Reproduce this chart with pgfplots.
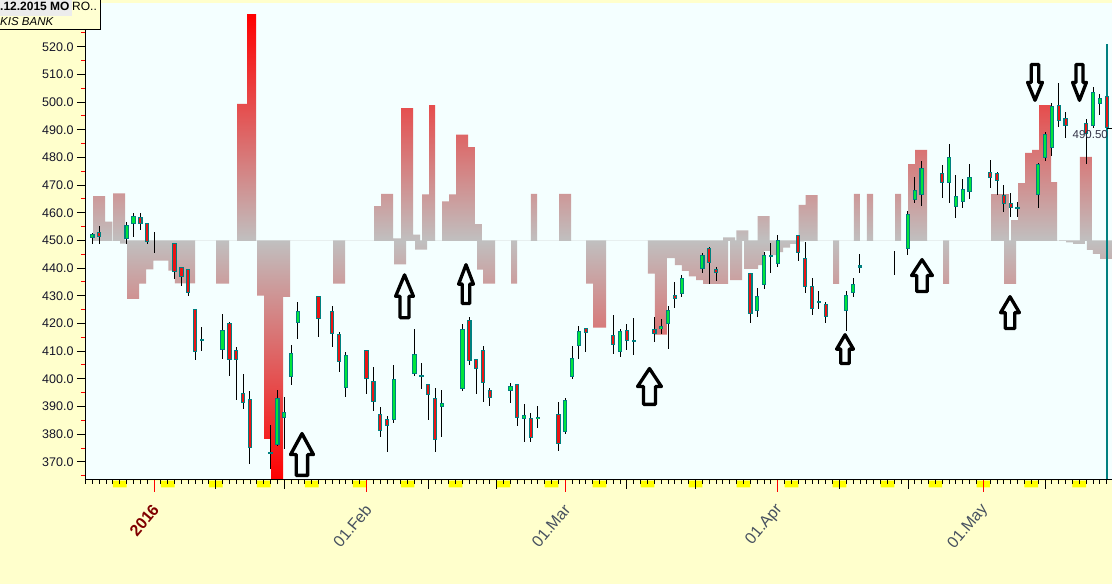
\documentclass[border=0pt]{standalone}
\usepackage{pgfplots}
\usepackage{pgfplotstable}
\pgfplotsset{compat=1.18}
\usepackage{fontspec}
\setmainfont{Liberation Sans}
\definecolor{bgyellow}{RGB}{255,255,204}
\definecolor{boxyellow}{RGB}{255,255,210}
\definecolor{boxgray}{RGB}{236,236,236}
\definecolor{plotbg}{RGB}{244,255,255}
\definecolor{cgreen}{RGB}{0,230,60}
\definecolor{cred}{RGB}{235,20,20}
\definecolor{cteal}{RGB}{0,128,128}
\definecolor{bargray}{RGB}{192,192,192}
\definecolor{darkred}{RGB}{128,0,0}
\definecolor{lblgray}{RGB}{70,80,95}
\definecolor{ylbl}{RGB}{20,20,40}
\definecolor{pricelbl}{RGB}{50,50,70}
\definecolor{wkyellow}{RGB}{255,255,0}

\pgfdeclareplotmark{blockarrow}{%
  \pgfpathmoveto{\pgfpoint{0pt}{1pt}}%
  \pgfpathlineto{\pgfpoint{1pt}{0pt}}%
  \pgfpathlineto{\pgfpoint{0.5pt}{0pt}}%
  \pgfpathlineto{\pgfpoint{0.5pt}{-1pt}}%
  \pgfpathlineto{\pgfpoint{-0.5pt}{-1pt}}%
  \pgfpathlineto{\pgfpoint{-0.5pt}{0pt}}%
  \pgfpathlineto{\pgfpoint{-1pt}{0pt}}%
  \pgfpathclose
  \pgfusepathqstroke
}

\pgfplotstableread{
d o h l c
-9 450.8 452.6 448.6 452.3
-4 450.6 456.5 448.6 455.5
-3 455.8 459.8 451.3 458.7
7 413.9 418.7 410.0 413.9
10 410.5 423.4 407.1 417.5
17 373.0 383.3 367.2 373.6
18 376.0 395.9 375.8 392.9
19 385.9 393.4 374.6 387.9
20 400.5 412.2 397.7 409.2
21 420.0 427.6 414.5 424.4
28 396.6 409.7 393.3 408.5
35 385.1 404.9 384.1 399.8
38 401.6 417.9 401.1 408.9
42 389.9 395.9 379.0 391.1
45 396.2 419.8 395.7 417.9
52 395.7 398.6 391.1 397.5
54 385.3 390.8 377.3 386.8
56 385.3 390.2 382.1 386.3
60 380.7 393.1 380.2 392.3
61 400.5 411.7 400.0 407.4
62 411.7 418.9 407.2 417.2
68 409.6 417.9 407.7 417.2
70 413.3 421.8 408.5 413.9
74 417.9 421.5 416.1 419.0
75 419.7 426.2 410.9 424.7
77 430.5 437.4 429.4 436.3
80 439.6 445.3 438.1 444.6
88 424.4 432.7 422.4 429.8
89 433.8 445.7 432.3 444.6
90 444.3 448.9 438.3 444.3
91 441.4 451.8 440.3 450.0
101 424.4 431.6 417.4 430.2
102 430.9 436.3 429.4 434.1
103 440.6 445.0 438.3 440.6
110 446.8 460.5 444.6 459.4
111 464.5 472.8 463.4 468.1
112 466.3 478.6 462.3 476.1
116 470.6 484.7 463.6 480.2
117 462.1 473.5 458.2 465.9
118 463.8 472.1 461.8 468.5
119 467.4 477.5 464.9 472.8
126 461.6 463.8 458.6 461.6
129 466.3 477.9 461.8 477.5
130 479.7 489.1 478.6 488.3
131 483.3 499.5 480.4 498.5
137 491.2 505.3 490.5 503.5
138 499.2 502.8 495.2 501.3
}\greenc

\pgfplotstableread{
d o h l c
-8 452.9 455.2 448.6 451.3
-2 458.3 459.8 453.8 455.8
-1 456.2 456.2 448.6 449.6
3 448.9 448.9 436.0 438.7
4 440.3 440.3 433.5 436.9
5 439.6 439.6 429.9 431.1
6 425.1 425.1 406.8 409.8
11 420.0 420.4 401.1 406.7
12 410.3 411.4 392.4 406.9
13 394.7 401.7 389.0 391.1
14 392.6 395.6 369.1 374.9
24 429.8 429.8 415.2 421.5
26 424.4 426.3 411.6 416.0
27 416.0 416.8 402.5 406.2
31 410.3 410.3 394.6 399.8
32 399.1 404.2 388.5 391.5
33 387.2 389.8 379.0 381.0
34 385.6 386.5 373.4 383.0
39 401.2 405.6 396.2 400.5
40 398.0 398.0 385.1 394.0
41 392.9 396.5 373.4 377.7
46 421.2 422.2 405.1 406.3
47 407.0 407.0 394.6 403.4
48 410.3 411.7 391.7 398.4
49 396.1 396.8 390.1 393.2
53 398.0 398.0 383.0 385.7
55 385.9 387.5 377.3 378.5
59 387.2 391.5 374.0 376.3
63 418.2 418.2 409.6 416.4
67 415.7 422.9 408.8 412.1
69 417.5 419.7 410.5 413.6
73 417.9 422.2 413.2 416.1
76 430.2 434.9 425.7 428.7
81 447.1 447.5 434.3 441.7
82 439.6 440.3 435.2 438.1
87 438.1 438.1 420.0 423.3
94 451.8 451.8 442.4 445.3
95 443.5 449.3 430.9 433.0
96 433.4 436.3 423.1 425.1
97 428.0 431.6 425.1 427.3
98 426.9 427.6 420.0 422.2
115 474.2 477.1 465.2 470.6
122 474.6 478.9 468.8 472.4
123 474.2 474.6 466.3 471.4
124 466.3 469.9 460.4 463.0
125 463.4 467.0 458.6 461.6
132 498.8 506.8 490.9 493.0
133 494.1 496.3 486.9 491.2
136 492.3 493.8 477.5 488.3
139 502.1 502.1 490.5 490.5
}\redc

\pgfplotstableread{
d o h l c
0 450.0 452.9 445.5 450.0
108 441.0 446.0 437.6 441.0
}\wickc

\begin{document}
\begin{tikzpicture}
\useasboundingbox (0,0) rectangle (1112pt,584pt);
\fill[bgyellow] (0,0) rectangle (1112pt,584pt);
\begin{axis}[
  at={(85pt,104pt)}, anchor=south west,
  scale only axis, width=1027pt, height=477pt,
  xmin=-10.07, xmax=139.77, ymin=363.4, ymax=535.8,
  clip=false, axis on top=true,
  axis x line*=bottom, axis y line*=left,
  axis line style={-, black, line width=1pt},
  axis background/.style={fill=plotbg},
  tick align=outside,
  major tick length=8pt, minor tick length=4pt,
  ytick={370,380,...,520},
  minor ytick={365,375,...,525},
  every major tick/.append style={black, line width=0.8pt},
  every minor tick/.append style={red, line width=0.8pt},
  xtick={0,31,60,91,121},
  xticklabels={\textbf{\textcolor{darkred}{2016}},01.Feb,01.Mar,01.Apr,01.May},
  xtick style={draw=none},
  xticklabel style={xshift=4pt, yshift=-16pt, rotate=50, anchor=east, font=\fontsize{16}{16}\selectfont, text=lblgray},
  yticklabel style={font=\fontsize{12.5}{14}\selectfont, text=ylbl, /pgf/number format/fixed, /pgf/number format/fixed zerofill, /pgf/number format/precision=1},
  /pgf/number format/assume math mode=true,
  candle/.style={draw=none, mark=none, forget plot, error bars/.cd, y dir=both, y explicit, error mark=none},
]
% gradient bars above 450
\addplot[draw=none, bottom color=bargray, top color=red, forget plot] coordinates {
(-8.90,449.8)(-8.90,466.0)(-7.15,466.0)(-7.15,456.8)(-6.08,456.8)(-6.08,449.8)
(-5.98,449.8)(-5.98,467.0)(-4.23,467.0)(-4.23,449.8)
(12.11,449.8)(12.11,499.3)(13.57,499.3)(13.57,531.8)(14.88,531.8)(14.88,449.8)
(32.10,449.8)(32.10,462.4)(33.12,462.4)(33.12,466.8)(34.87,466.8)(34.87,450.7)(36.04,450.7)(36.04,497.8)(37.79,497.8)(37.79,452.1)(38.81,452.1)(38.81,449.8)
(39.10,449.8)(39.10,466.6)(40.12,466.6)(40.12,498.9)(41.00,498.9)(41.00,449.8)
(42.02,449.8)(42.02,464.1)(43.04,464.1)(43.04,466.6)(44.06,466.6)(44.06,488.2)(45.81,488.2)(45.81,483.7)(46.83,483.7)(46.83,455.9)(47.85,455.9)(47.85,449.8)
(55.00,449.8)(55.00,466.8)(55.88,466.8)(55.88,449.8)
(59.09,449.8)(59.09,466.8)(60.84,466.8)(60.84,449.8)
(83.02,449.8)(83.02,451.1)(84.77,451.1)(84.77,449.8)
(84.97,449.8)(84.97,453.6)(86.72,453.6)(86.72,449.8)
(88.06,449.8)(88.06,458.8)(89.82,458.8)(89.82,449.8)
(94.05,449.8)(94.05,462.8)(95.07,462.8)(95.07,466.4)(96.83,466.4)(96.83,449.8)
(102.12,449.8)(102.12,466.8)(103.00,466.8)(103.00,449.8)
(104.02,449.8)(104.02,466.8)(104.90,466.8)(104.90,449.8)
(108.11,449.8)(108.11,466.8)(108.99,466.8)(108.99,449.8)
(110.02,449.8)(110.02,477.6)(111.05,477.6)(111.05,482.7)(112.80,482.7)(112.80,449.8)
(122.12,449.8)(122.12,466.7)(124.74,466.7)(124.74,449.8)
(125.04,449.8)(125.04,457.3)(126.06,457.3)(126.06,470.7)(127.08,470.7)(127.08,481.6)(128.10,481.6)(128.10,482.7)(129.13,482.7)(129.13,498.9)(130.87,498.9)(130.87,471.1)(131.75,471.1)(131.75,449.8)
(135.10,449.8)(135.10,480.2)(136.85,480.2)(136.85,449.8)
} --cycle;
% gradient bars below 450
\addplot[draw=none, top color=bargray, bottom color=red, forget plot] coordinates {
(-4.96,450)(-4.96,448.8)(-3.94,448.8)(-3.94,428.9)(-2.19,428.9)(-2.19,434.4)(-1.17,434.4)(-1.17,439.5)(-0.10,439.5)(-0.10,442.7)(2.09,442.7)(2.09,439.1)(3.06,439.1)(3.06,434.5)(5.98,434.5)(5.98,450)
(9.05,450)(9.05,434.4)(10.94,434.4)(10.94,450)
(15.03,450)(15.03,430.0)(16.05,430.0)(16.05,378.3)(17.07,378.3)(17.07,363.4)(18.82,363.4)(18.82,429.6)(19.84,429.6)(19.84,450)
(26.12,450)(26.12,434.4)(27.87,434.4)(27.87,450)
(35.02,450)(35.02,441.3)(36.77,441.3)(36.77,450)
(38.08,450)(38.08,446.7)(39.83,446.7)(39.83,450)
(47.13,450)(47.13,439.4)(48.00,439.4)(48.00,434.4)(49.75,434.4)(49.75,450)
(52.09,450)(52.09,434.4)(52.96,434.4)(52.96,450)
(63.03,450)(63.03,434.4)(64.05,434.4)(64.05,418.5)(65.95,418.5)(65.95,450)
(72.07,450)(72.07,438.0)(73.09,438.0)(73.09,415.9)(74.84,415.9)(74.84,443.6)(76.01,443.6)(76.01,441.1)(77.03,441.1)(77.03,439.0)(78.05,439.0)(78.05,437.0)(79.08,437.0)(79.08,435.6)(80.10,435.6)(80.10,434.3)(83.75,434.3)(83.75,450)
(84.05,450)(84.05,435.6)(85.80,435.6)(85.80,450)
(86.09,450)(86.09,439.7)(88.13,439.7)(88.13,441.1)(89.01,441.1)(89.01,446.2)(89.88,446.2)(89.88,444.7)(90.90,444.7)(90.90,445.8)(91.77,445.8)(91.77,447.4)(92.79,447.4)(92.79,448.7)(93.96,448.7)(93.96,449.6)(94.83,449.6)(94.83,450)
(99.07,450)(99.07,434.3)(99.94,434.3)(99.94,450)
(115.12,450)(115.12,434.3)(115.99,434.3)(115.99,450)
(124.02,450)(124.02,434.3)(125.77,434.3)(125.77,450)
(132.04,450)(132.04,449.8)(133.06,449.8)(133.06,449.3)(134.08,449.3)(134.08,448.7)(135.83,448.7)(135.83,450)
(136.12,450)(136.12,446.6)(136.99,446.6)(136.99,445.1)(138.02,445.1)(138.02,443.3)(139.77,443.3)(139.77,450)
} --cycle;
% today line
\addplot[cteal, line width=1.2pt, forget plot] coordinates {(139.05,363.4) (139.05,521)};
% arrows
\addplot[only marks, mark=blockarrow, mark options={xscale=11.4, yscale=20.9, line width=3.4pt, draw=black, line join=round}, forget plot] coordinates {(21.59,372.6)};
\addplot[only marks, mark=blockarrow, mark options={xscale=8.9, yscale=21.4, line width=3.3pt, draw=black, line join=round}, forget plot] coordinates {(36.55,429.8)};
\addplot[only marks, mark=blockarrow, mark options={xscale=7.4, yscale=19.4, line width=3.3pt, draw=black, line join=round}, forget plot] coordinates {(45.52,434.2)};
\addplot[only marks, mark=blockarrow, mark options={xscale=11.9, yscale=17.9, line width=3.3pt, draw=black, line join=round}, forget plot] coordinates {(72.29,397.2)};
\addplot[only marks, mark=blockarrow, mark options={xscale=8.4, yscale=14.4, line width=3.3pt, draw=black, line join=round}, forget plot] coordinates {(100.82,410.7)};
\addplot[only marks, mark=blockarrow, mark options={xscale=10.4, yscale=15.9, line width=3.3pt, draw=black, line join=round}, forget plot] coordinates {(112.05,437.3)};
\addplot[only marks, mark=blockarrow, mark options={xscale=9.4, yscale=15.9, line width=3.3pt, draw=black, line join=round}, forget plot] coordinates {(124.89,423.9)};
\addplot[only marks, mark=blockarrow, mark options={xscale=7.4, yscale=-17.9, line width=3.3pt, draw=black, line join=round}, forget plot] coordinates {(128.54,507.1)};
\addplot[only marks, mark=blockarrow, mark options={xscale=6.9, yscale=-17.9, line width=3.3pt, draw=black, line join=round}, forget plot] coordinates {(135.03,507.1)};
% wicks
\addplot[candle, error bar style={draw=black, line width=1pt}]
  table[x=d, y expr={(\thisrow{h}+\thisrow{l})/2}, y error expr={(\thisrow{h}-\thisrow{l})/2}] {\greenc};
\addplot[candle, error bar style={draw=black, line width=1pt}]
  table[x=d, y expr={(\thisrow{h}+\thisrow{l})/2}, y error expr={(\thisrow{h}-\thisrow{l})/2}] {\redc};
\addplot[candle, error bar style={draw=black, line width=1pt}]
  table[x=d, y expr={(\thisrow{h}+\thisrow{l})/2}, y error expr={(\thisrow{h}-\thisrow{l})/2}] {\wickc};
% bodies
\addplot[candle, error bar style={draw=cteal, line width=4.4pt}]
  table[x=d, y expr={(\thisrow{o}+\thisrow{c})/2}, y error expr={max(abs(\thisrow{o}-\thisrow{c})/2,0.4)}] {\greenc};
\addplot[candle, error bar style={draw=cgreen, line width=2.2pt}]
  table[x=d, y expr={(\thisrow{o}+\thisrow{c})/2}, y error expr={max(abs(\thisrow{o}-\thisrow{c})/2-0.36,0)}] {\greenc};
\addplot[candle, error bar style={draw=cteal, line width=4.4pt}]
  table[x=d, y expr={(\thisrow{o}+\thisrow{c})/2}, y error expr={max(abs(\thisrow{o}-\thisrow{c})/2,0.4)}] {\redc};
\addplot[candle, error bar style={draw=cred, line width=2.2pt}]
  table[x=d, y expr={(\thisrow{o}+\thisrow{c})/2}, y error expr={max(abs(\thisrow{o}-\thisrow{c})/2-0.36,0)}] {\redc};
% weekend blocks under the axis
\addplot[draw=none, fill=wkyellow, forget plot] coordinates {
(-6,363.2)(-6,360.77)(-4,360.77)(-4,363.2)
(1,363.2)(1,360.77)(3,360.77)(3,363.2)
(8,363.2)(8,360.77)(10,360.77)(10,363.2)
(15,363.2)(15,360.77)(17,360.77)(17,363.2)
(22,363.2)(22,360.77)(24,360.77)(24,363.2)
(29,363.2)(29,360.77)(31,360.77)(31,363.2)
(36,363.2)(36,360.77)(38,360.77)(38,363.2)
(43,363.2)(43,360.77)(45,360.77)(45,363.2)
(50,363.2)(50,360.77)(52,360.77)(52,363.2)
(57,363.2)(57,360.77)(59,360.77)(59,363.2)
(64,363.2)(64,360.77)(66,360.77)(66,363.2)
(71,363.2)(71,360.77)(73,360.77)(73,363.2)
(78,363.2)(78,360.77)(80,360.77)(80,363.2)
(85,363.2)(85,360.77)(87,360.77)(87,363.2)
(92,363.2)(92,360.77)(94,360.77)(94,363.2)
(99,363.2)(99,360.77)(101,360.77)(101,363.2)
(106,363.2)(106,360.77)(108,360.77)(108,363.2)
(113,363.2)(113,360.77)(115,360.77)(115,363.2)
(120,363.2)(120,360.77)(122,360.77)(122,363.2)
(127,363.2)(127,360.77)(129,360.77)(129,363.2)
(134,363.2)(134,360.77)(136,360.77)(136,363.2)
} --cycle;
% daily ticks
\addplot[only marks, mark=|, mark size=2pt, mark options={draw=black, line width=0.9pt}, forget plot]
  table[row sep=\\, x=x, y expr=362.68] {x\\-10\\-9\\-8\\-7\\-6\\-5\\-4\\-3\\-2\\-1\\0\\1\\2\\3\\4\\5\\6\\7\\8\\9\\10\\11\\12\\13\\14\\15\\16\\17\\18\\19\\20\\21\\22\\23\\24\\25\\26\\27\\28\\29\\30\\31\\32\\33\\34\\35\\36\\37\\38\\39\\40\\41\\42\\43\\44\\45\\46\\47\\48\\49\\50\\51\\52\\53\\54\\55\\56\\57\\58\\59\\60\\61\\62\\63\\64\\65\\66\\67\\68\\69\\70\\71\\72\\73\\74\\75\\76\\77\\78\\79\\80\\81\\82\\83\\84\\85\\86\\87\\88\\89\\90\\91\\92\\93\\94\\95\\96\\97\\98\\99\\100\\101\\102\\103\\104\\105\\106\\107\\108\\109\\110\\111\\112\\113\\114\\115\\116\\117\\118\\119\\120\\121\\122\\123\\124\\125\\126\\127\\128\\129\\130\\131\\132\\133\\134\\135\\136\\137\\138\\139\\};
% 10th / 20th ticks
\addplot[only marks, mark=|, mark size=4.5pt, mark options={draw=black, line width=0.9pt}, forget plot]
  coordinates {(9,361.77)(19,361.77)(40,361.77)(50,361.77)(69,361.77)(79,361.77)(100,361.77)(110,361.77)(130,361.77)};
% month ticks
\addplot[only marks, mark=|, mark size=6pt, mark options={draw=red, line width=0.9pt}, forget plot]
  coordinates {(0,361.23)(31,361.23)(60,361.23)(91,361.23)(121,361.23)};
% last close marker
\addplot[black, line width=1pt, forget plot] coordinates {(139.05,490.5) (139.77,490.5)};
\node[font=\fontsize{11.5}{12}\selectfont, text=pricelbl] at (axis cs:136.6,488.4) {490.50};
\end{axis}
% title box
\filldraw[fill=boxyellow, draw=black, line width=1pt] (-2pt,554.5pt) rectangle (100pt,586pt);
\fill[boxgray] (-1pt,567.5pt) rectangle (72pt,584pt);
\node[anchor=base west, inner sep=0, font=\bfseries\fontsize{12}{12}\selectfont] at (0pt,573pt) {.12.2015 MO};
\node[anchor=base west, inner sep=0, font=\fontsize{12}{12}\selectfont] at (72pt,573pt) {RO..};
\node[anchor=base west, inner sep=0, font=\itshape\fontsize{11.5}{12}\selectfont] at (0pt,558pt) {KIS BANK};
\end{tikzpicture}
\end{document}
